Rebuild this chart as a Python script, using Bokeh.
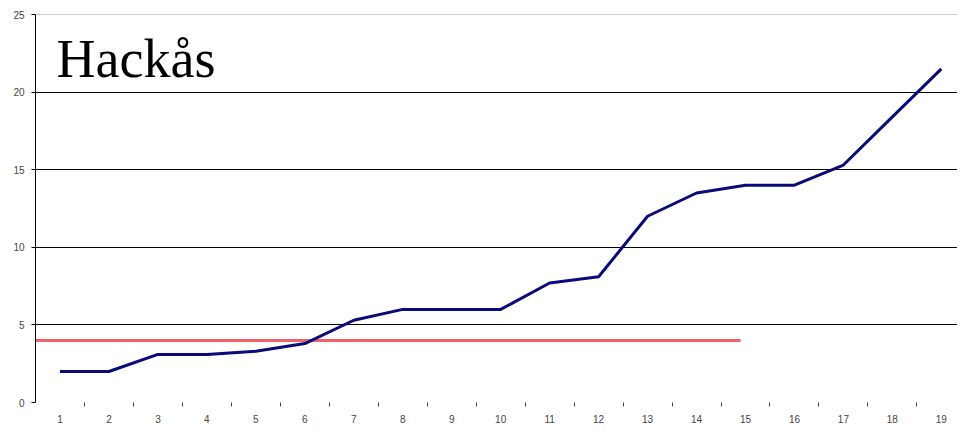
from bokeh.plotting import figure
from bokeh.models import Range1d, FixedTicker, Span, Label
from bokeh.embed import file_html
from bokeh.resources import INLINE

# Data
categories = list(range(1, 20))
values = [2.0, 2.0, 3.1, 3.1, 3.3, 3.8, 5.3, 6.0, 6.0, 6.0,
          7.7, 8.1, 12.0, 13.5, 14.0, 14.0, 15.3, 18.4, 21.5]
ref_x = [0.5, 14.9]
ref_y = [4.0, 4.0]
y_ticks = [0, 5, 10, 15, 20, 25]
x_labels = {c: str(c) for c in categories}
title_text = "Hackås"

p = figure(width=957, height=425, output_backend="svg", toolbar_location=None,
           x_range=Range1d(0.5, 19.33), y_range=Range1d(0, 25),
           min_border_left=35, min_border_top=14, min_border_right=0,
           min_border_bottom=23)
p.outline_line_color = None
p.background_fill_color = "white"

# Grid
p.xgrid.grid_line_color = None
p.ygrid.ticker = FixedTicker(ticks=[5, 10, 15, 20])
p.ygrid.grid_line_color = "black"
p.ygrid.grid_line_width = 1
p.add_layout(Span(location=25, dimension="width", line_color="#9a9a9a", line_width=1))

# Y axis
p.yaxis.ticker = FixedTicker(ticks=y_ticks)
p.yaxis.axis_line_color = "black"
p.yaxis.major_tick_line_color = "black"
p.yaxis.major_tick_out = 4
p.yaxis.major_tick_in = 0
p.yaxis.minor_tick_line_color = None
p.yaxis.major_label_text_font = "Liberation Sans"
p.yaxis.major_label_text_font_size = "10px"
p.yaxis.major_label_text_color = "#444444"
p.yaxis.major_label_standoff = 7

# X axis
p.xaxis.ticker = FixedTicker(ticks=categories, minor_ticks=[c + 0.5 for c in categories])
p.xaxis.major_label_overrides = x_labels
p.xaxis.axis_line_color = None
p.xaxis.major_tick_line_color = None
p.xaxis.minor_tick_line_color = "#444444"
p.xaxis.minor_tick_out = 4
p.xaxis.minor_tick_in = 0
p.xaxis.major_label_text_font = "Liberation Sans"
p.xaxis.major_label_text_font_size = "10px"
p.xaxis.major_label_text_color = "#444444"
p.xaxis.major_label_standoff = 6

# Lines
p.line(ref_x, ref_y, line_color="#f2606a", line_width=3)
p.line(categories, values, line_color="#0a0a78", line_width=3)

# Title
p.add_layout(Label(x=0.93, y=22.15, text=title_text, text_font="Liberation Serif",
                   text_font_size="54px", text_color="black",
                   text_baseline="alphabetic"))

open("out.html", "w").write(file_html(p, INLINE))
